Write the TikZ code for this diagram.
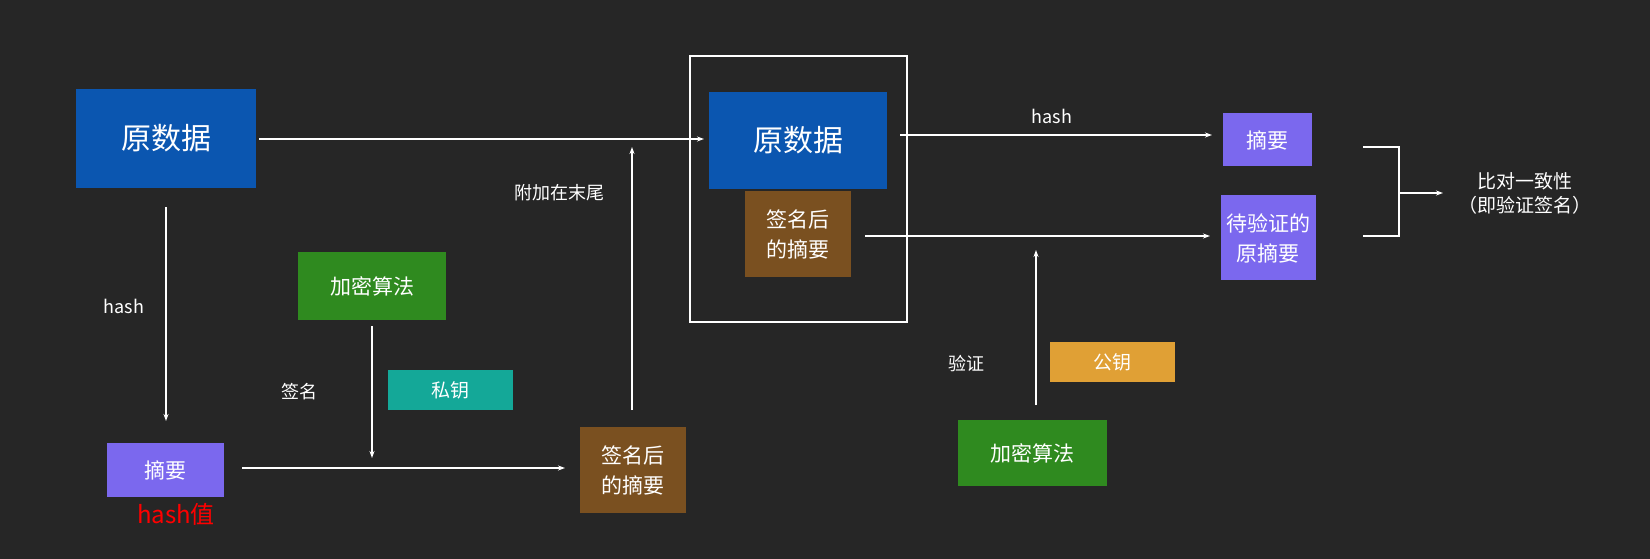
\documentclass[tikz,border=0pt]{standalone}
\usepackage{fontspec}
\setmainfont{Noto Sans CJK SC}
\usetikzlibrary{arrows.meta}
\definecolor{bg}{HTML}{262626}
\definecolor{cblue}{HTML}{0B56B0}
\definecolor{cgreen}{HTML}{2F8A1F}
\definecolor{cteal}{HTML}{14A898}
\definecolor{cbrown}{HTML}{7A5020}
\definecolor{cpurple}{HTML}{7B68EE}
\definecolor{corange}{HTML}{E0A035}
\begin{document}
\begin{tikzpicture}[x=1pt,y=-1pt,
  box/.style={text=white,align=center,inner sep=0pt,font=\fontsize{21}{25}\selectfont},
  lbl/.style={text=white,font=\fontsize{18}{22}\selectfont},
  arr/.style={white,line width=1.3pt,-{Stealth[length=7pt,width=5pt]}},
  ln/.style={white,line width=1.3pt}]
\fill[bg] (0,0) rectangle (1650,559);
\useasboundingbox (0,0) rectangle (1650,559);
\newcommand\bx[6]{\fill[#2] (#3,#4) rectangle (#5,#6); \node[box] (#1) at ({(#3+#5)/2},{(#4+#6)/2}) {};}
\fill[cblue] (76,89) rectangle (256,188);
\node[box,font=\fontsize{30}{34}\selectfont] (src) at (166,138) {原数据};
\fill[cpurple] (107,443) rectangle (224,497);
\node[box] (dig) at (165,470) {摘要};
\node[text=red,font=\fontsize{24}{28}\selectfont] (hv) at (176,514) {hash值};
\fill[cgreen] (298,252) rectangle (446,320);
\node[box] (alg1) at (372,286) {加密算法};
\fill[cteal] (388,370) rectangle (513,410);
\node[box,font=\fontsize{19}{23}\selectfont] (pk) at (450,390) {私钥};
\fill[cbrown] (580,427) rectangle (686,513);
\node[box,font=\fontsize{21}{30}\selectfont] (sig) at (633,470) {签名后\\的摘要};
\draw[white,line width=1.3pt] (690,56) rectangle (907,322);
\fill[cblue] (709,92) rectangle (887,189);
\node[box,font=\fontsize{30}{34}\selectfont] (src2) at (798,140) {原数据};
\fill[cbrown] (745,191) rectangle (851,277);
\node[box,font=\fontsize{21}{30}\selectfont] (sig2) at (798,234) {签名后\\的摘要};
\fill[cpurple] (1223,113) rectangle (1312,166);
\node[box] (dig2) at (1267,140) {摘要};
\fill[cpurple] (1221,195) rectangle (1316,280);
\node[box,font=\fontsize{21}{30}\selectfont] (orig) at (1268,238) {待验证的\\原摘要};
\fill[corange] (1050,342) rectangle (1175,382);
\node[box,font=\fontsize{19}{23}\selectfont] (pub) at (1112,362) {公钥};
\fill[cgreen] (958,420) rectangle (1107,486);
\node[box] (alg2) at (1032,453) {加密算法};
\node[text=white,align=center,font=\fontsize{19}{24}\selectfont] (cmp) at (1525,193) {比对一致性\\（即验证签名）};
% labels
\node[lbl] (l1) at (124,306) {hash};
\node[lbl] (l2) at (299,392) {签名};
\node[lbl] (l3) at (559,193) {附加在末尾};
\node[lbl] (l4) at (1052,116) {hash};
\node[lbl] (l5) at (966,364) {验证};
% coordinates
\coordinate (a1) at (166,207); \coordinate (a2) at (166,421);
\coordinate (b1) at (242,468); \coordinate (b2) at (565,468);
\coordinate (c1) at (372,326); \coordinate (c2) at (372,458);
\coordinate (d1) at (632,410); \coordinate (d2) at (632,147);
\coordinate (e1) at (259,139); \coordinate (e2) at (704,139);
\coordinate (f1) at (900,135); \coordinate (f2) at (1212,135);
\coordinate (g1) at (865,236); \coordinate (g2) at (1210,236);
\coordinate (h1) at (1036,405); \coordinate (h2) at (1036,250);
\draw[arr] (a1) -- (a2);
\draw[arr] (b1) -- (b2);
\draw[arr] (c1) -- (c2);
\draw[arr] (d1) -- (d2);
\draw[arr] (e1) -- (e2);
\draw[arr] (f1) -- (f2);
\draw[arr] (g1) -- (g2);
\draw[arr] (h1) -- (h2);
\coordinate (k1) at (1363,147); \coordinate (k2) at (1399,147);
\coordinate (k3) at (1399,236); \coordinate (k4) at (1363,236);
\coordinate (k5) at (1399,193); \coordinate (k6) at (1443,193);
\draw[ln] (k1) -- (k2) -- (k3) -- (k4);
\draw[arr] (k5) -- (k6);
\end{tikzpicture}
\end{document}
